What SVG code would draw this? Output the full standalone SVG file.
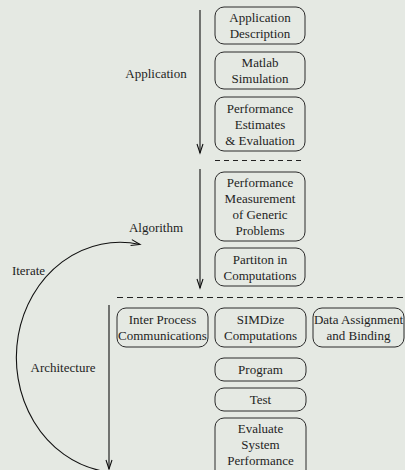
<svg xmlns="http://www.w3.org/2000/svg" width="405" height="470" viewBox="0 0 405 470" font-family="'Liberation Serif', serif" font-size="13">
<style>
.bg{fill:#e5e9e3}
.box{fill:none;stroke:#2a2a2a;stroke-width:1}
.t{font-family:'Liberation Serif',serif;font-size:13px;fill:#1e1e1e;text-anchor:middle}
.ln{fill:none;stroke:#111;stroke-width:1.1}
.dash{fill:none;stroke:#222;stroke-width:1}
</style>
<defs>
<marker id="ah" markerWidth="12" markerHeight="10" refX="0" refY="0" viewBox="-10 -5 12 10" orient="auto" markerUnits="userSpaceOnUse">
<path d="M -9 -3 L 0 0 L -9 3" fill="none" stroke="#111" stroke-width="1.1"/>
</marker>
</defs>
<rect class="bg" x="0" y="0" width="405" height="470"/>
<g id="connectors">
<line class="ln" x1="200" y1="10" x2="200" y2="153" marker-end="url(#ah)"/>
<line class="ln" x1="200" y1="169" x2="200" y2="288" marker-end="url(#ah)"/>
<line class="ln" x1="109" y1="305" x2="109" y2="469" marker-end="url(#ah)"/>
<path class="ln" d="M 100 470.5 A 103.5 115 0 0 1 140 244.5" marker-end="url(#ah)"/>
<line class="dash" x1="215" y1="160.5" x2="302" y2="160.5" stroke-dasharray="5 4"/>
<line class="dash" x1="117" y1="297.5" x2="405" y2="297.5" stroke-dasharray="6 4"/>
</g>
<g id="label-application"><text class="t" x="156" y="78">Application</text></g>
<g id="label-algorithm"><text class="t" x="156" y="232">Algorithm</text></g>
<g id="label-iterate"><text class="t" x="28.5" y="275">Iterate</text></g>
<g id="label-architecture"><text class="t" x="63" y="372">Architecture</text></g>
<g id="app-desc"><rect class="box" x="215" y="7" width="90" height="37" rx="9"/>
<text class="t" x="260" y="22">Application</text><text class="t" x="260" y="38">Description</text></g>
<g id="matlab"><rect class="box" x="215" y="52" width="90" height="37" rx="9"/>
<text class="t" x="260" y="67">Matlab</text><text class="t" x="260" y="83">Simulation</text></g>
<g id="perf-est"><rect class="box" x="215" y="97" width="90" height="54" rx="9"/>
<text class="t" x="260" y="112.5">Performance</text><text class="t" x="260" y="128.5">Estimates</text><text class="t" x="260" y="144.5">&amp; Evaluation</text></g>
<g id="perf-meas"><rect class="box" x="215" y="172" width="90" height="69" rx="9"/>
<text class="t" x="260" y="187">Performance</text><text class="t" x="260" y="203">Measurement</text><text class="t" x="260" y="219">of Generic</text><text class="t" x="260" y="235">Problems</text></g>
<g id="partition"><rect class="box" x="215" y="248" width="90" height="38" rx="9"/>
<text class="t" x="260" y="263.5">Partiton in</text><text class="t" x="260" y="279.5">Computations</text></g>
<g id="ipc"><rect class="box" x="117" y="308" width="91" height="39" rx="9"/>
<text class="t" x="162.5" y="324">Inter Process</text><text class="t" x="162.5" y="340">Communications</text></g>
<g id="simd"><rect class="box" x="215" y="308" width="91" height="39" rx="9"/>
<text class="t" x="260.5" y="324">SIMDize</text><text class="t" x="260.5" y="340">Computations</text></g>
<g id="data"><rect class="box" x="313" y="308" width="91" height="39" rx="9"/>
<text class="t" x="358.5" y="324">Data Assignment</text><text class="t" x="358.5" y="340">and Binding</text></g>
<g id="program"><rect class="box" x="215" y="358" width="91" height="23" rx="9"/>
<text class="t" x="260.5" y="374">Program</text></g>
<g id="test"><rect class="box" x="215" y="388" width="91" height="23" rx="9"/>
<text class="t" x="260.5" y="404">Test</text></g>
<g id="evaluate"><rect class="box" x="215" y="418" width="91" height="62" rx="9"/>
<text class="t" x="260.5" y="433">Evaluate</text><text class="t" x="260.5" y="449">System</text><text class="t" x="260.5" y="465">Performance</text></g>
</svg>
